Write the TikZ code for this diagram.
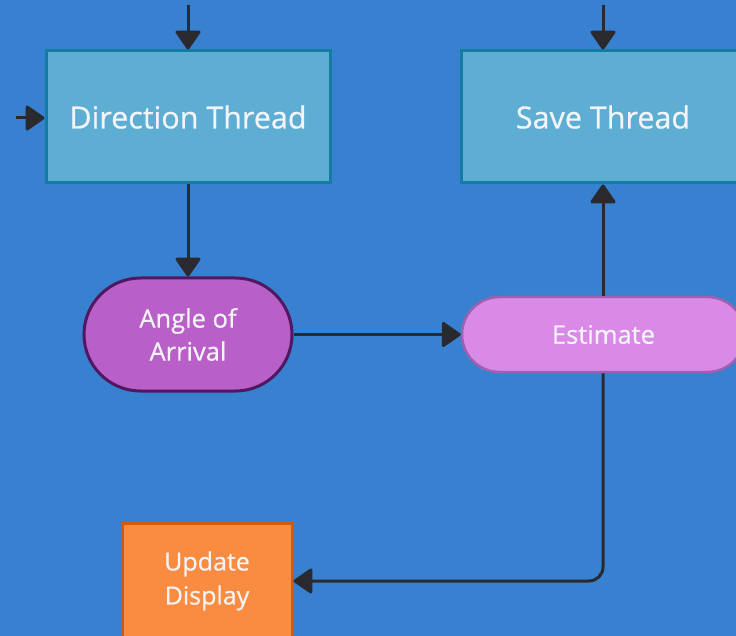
\documentclass[tikz,border=0pt]{standalone}
\usepackage{fontspec}
\setmainfont{Open Sans}[AutoFakeBold=0.6]
\usetikzlibrary{arrows.meta,shapes.misc}
\definecolor{bgblue}{RGB}{56,128,208}
\definecolor{threadfill}{RGB}{94,174,212}
\definecolor{threadline}{RGB}{20,124,164}
\definecolor{aoafill}{RGB}{185,95,200}
\definecolor{aoaline}{RGB}{80,24,96}
\definecolor{estfill}{RGB}{216,138,230}
\definecolor{estline}{RGB}{160,96,176}
\definecolor{updfill}{RGB}{249,140,64}
\definecolor{updline}{RGB}{208,90,16}
\definecolor{wire}{RGB}{42,42,46}
\definecolor{label}{RGB}{244,244,248}
\tikzset{
  threadbox/.style={draw=threadline, fill=threadfill, line width=3pt,
    minimum width=284pt, minimum height=132pt, inner sep=0pt,
    text=label, font=\fontsize{30.5}{34}\selectfont\bfseries},
  pill/.style={rounded rectangle, rounded rectangle arc length=180, inner sep=0pt,
    text=label, align=center},
  updbox/.style={draw=updline, fill=updfill, line width=3pt,
    minimum width=170pt, minimum height=116pt, inner sep=0pt,
    text=label, align=center, font=\fontsize{25}{34}\selectfont\bfseries},
  flow/.style={draw=wire, line width=3pt,
    -{Triangle[length=20pt,width=27pt,round]}},
}
\begin{document}
\begin{tikzpicture}[x=1pt,y=-1pt]
  \fill[bgblue] (0,0) rectangle (736,636);
  \useasboundingbox (0,0) rectangle (736,636);
  \begin{scope}
    \clip (0,0) rectangle (736,636);
    \node[threadbox] (dir) at (188,117) {Direction Thread};
    \node[threadbox] (save) at (603,117) {Save Thread};
    \node[pill, draw=aoaline, fill=aoafill, line width=3pt,
      minimum width=208pt, minimum height=113pt,
      font=\fontsize{25.5}{33}\selectfont\bfseries] (aoa) at (188,334.5) {Angle of\\Arrival};
    \node[pill, draw=estline, fill=estfill, line width=2.5pt,
      minimum width=283pt, minimum height=75pt,
      font=\fontsize{25.5}{30}\selectfont\bfseries] (est) at (603.5,334.5) {Estimate};
    \node[updbox] (upd) at (207,581) {Update\\Display};
  \end{scope}
  \coordinate (dirin) at (188,5);
  \coordinate (savein) at (603,5);
  \coordinate (leftin) at (16,118);
  \draw[flow] (dirin) -- (dir.north);
  \draw[flow] (savein) -- (save.north);
  \draw[flow] (leftin) -- (leftin -| dir.west);
  \draw[flow] (dir.south) -- (aoa.north);
  \draw[flow] (aoa.east) -- (est.west);
  \draw[flow] (est.north -| save.south) -- (save.south);
  \draw[flow, rounded corners=14pt] (est.south -| save.south) |- (upd.east);
\end{tikzpicture}
\end{document}
